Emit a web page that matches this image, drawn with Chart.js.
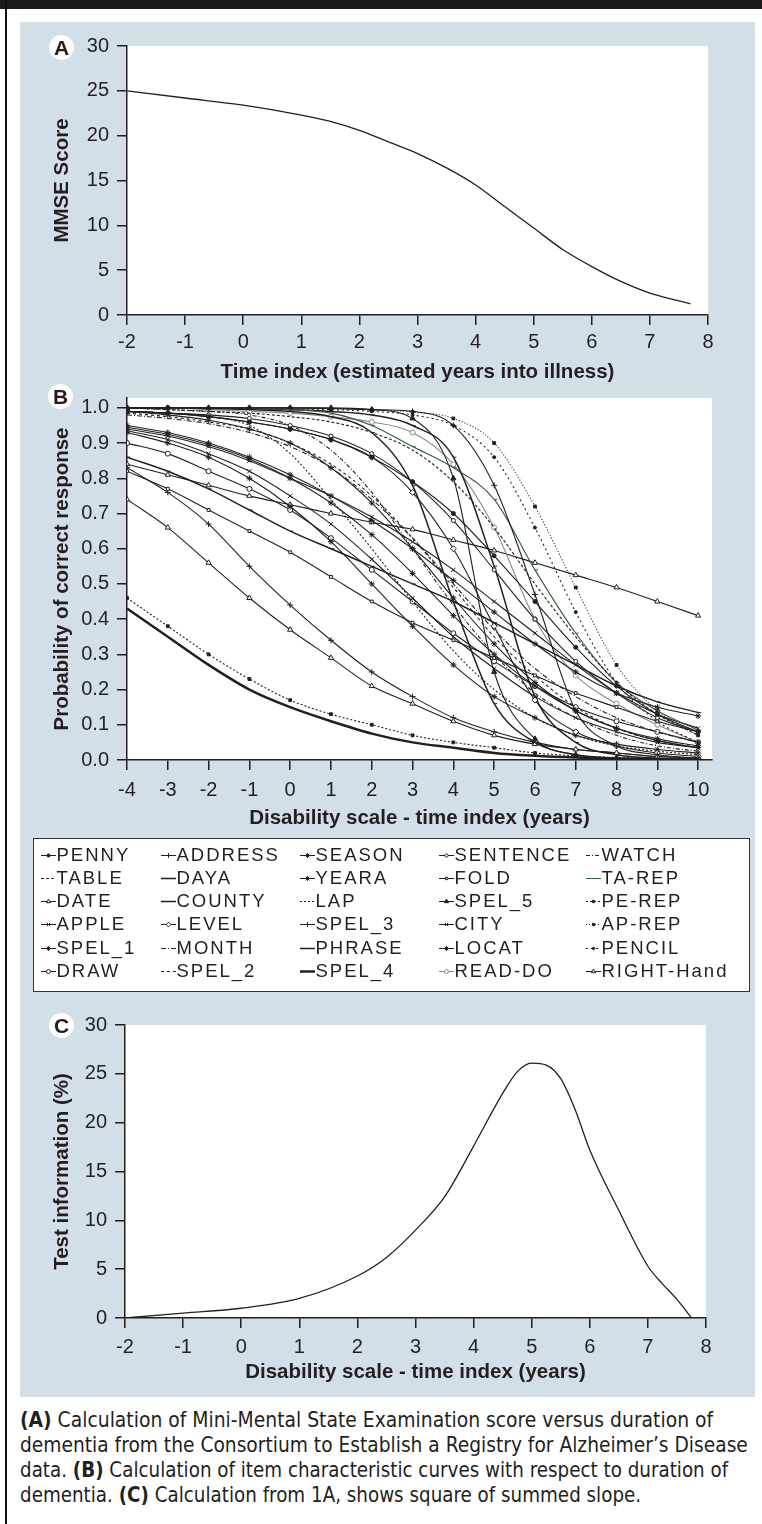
<!DOCTYPE html>
<html>
<head>
<meta charset="utf-8">
<script src="https://cdn.jsdelivr.net/npm/chart.js@4.4.0/dist/chart.umd.min.js"></script>
<style>
  body { margin:0; background:#fff; width:762px; height:1524px; position:relative; overflow:hidden;
         font-family:'Liberation Sans', Arial, sans-serif; color:#231f20; }
  #topbar { position:absolute; left:0; top:0; width:762px; height:9px; background:#1b1b1b; }
  #leftline { position:absolute; left:5px; top:0; width:2px; height:1524px; background:#111; }
  #panel { position:absolute; left:20px; top:22px; width:735px; height:1375px; background:#d3dfe6; }
  canvas.chart { position:absolute; left:20px; }
  .badge { position:absolute; width:25px; height:25px; border-radius:50%; background:#fff;
           font-weight:bold; font-size:21px; line-height:26px; text-align:center; }
  #legend { position:absolute; left:33px; top:838px; width:715px; height:152px; background:#fff;
            border:1.5px solid #333; }
  .item { position:absolute; height:22px; line-height:22px; font-size:18.5px; letter-spacing:2px; white-space:nowrap; }
  .item canvas { position:absolute; left:0; top:5px; }
  .item span { position:absolute; left:16px; top:0; }
  .cap { position:absolute; left:20px; height:26px; line-height:26px; white-space:nowrap; font-size:21px;
         font-family:'Liberation Sans Narrow','DejaVu Sans Condensed','Roboto Condensed','Liberation Sans',sans-serif;
         font-stretch:condensed; transform-origin:0 50%; }
</style>
</head>
<body>
<div id="topbar"></div>
<div id="leftline"></div>
<div id="panel"></div>
<canvas id="chartA" class="chart" width="735" height="370" style="top:22px"></canvas>
<canvas id="chartB" class="chart" width="735" height="455" style="top:378px"></canvas>
<canvas id="chartC" class="chart" width="735" height="395" style="top:1000px"></canvas>
<div class="badge" style="left:49px;top:35px">A</div>
<div class="badge" style="left:48px;top:384px">B</div>
<div class="badge" style="left:49px;top:1013px">C</div>
<div id="legend"></div>
<div class="cap" style="top:1407px"><b>(A)</b> Calculation of Mini-Mental State Examination score versus duration of</div>
<div class="cap" style="top:1432px">dementia from the Consortium to Establish a Registry for Alzheimer’s Disease</div>
<div class="cap" style="top:1457px">data. <b>(B)</b> Calculation of item characteristic curves with respect to duration of</div>
<div class="cap" style="top:1482px">dementia. <b>(C)</b> Calculation from 1A, shows square of summed slope.</div>
<script>
// panel A: MMSE score against time index
const timeA = [-2, -1, 0, 1, 1.5, 2, 2.5, 3, 3.5, 4, 4.5, 5, 5.5, 6, 6.5, 7, 7.7];
const mmse  = [25.0, 24.2, 23.4, 22.3, 21.6, 20.6, 19.3, 18.0, 16.4, 14.5, 12.1, 9.7, 7.3, 5.4, 3.75, 2.45, 1.25];

// panel C: test information
const timeC = [-2, -1, 0, 1, 2, 2.5, 3, 3.5, 4, 4.5, 4.75, 5, 5.25, 5.5, 5.75, 6, 6.5, 7, 7.25, 7.5, 7.75];
const info  = [0, 0.5, 1.0, 2.0, 4.3, 6.2, 9.0, 12.4, 17.6, 23.0, 25.2, 26.1, 25.9, 24.5, 21.3, 17.2, 11.0, 5.3, 3.5, 1.9, 0];

// panel B: item characteristic curves, one value per year
const years = [-4, -3, -2, -1, 0, 1, 2, 3, 4, 5, 6, 7, 8, 9, 10];
const penny     = [0.99, 0.985, 0.975, 0.96, 0.94, 0.91, 0.86, 0.79, 0.70, 0.58, 0.45, 0.32, 0.21, 0.13, 0.08];
const address   = [1.0, 1.0, 1.0, 1.0, 1.0, 0.998, 0.995, 0.99, 0.95, 0.78, 0.47, 0.14, 0.04, 0.015, 0.005];
const season    = [0.95, 0.93, 0.90, 0.86, 0.81, 0.75, 0.68, 0.60, 0.51, 0.42, 0.33, 0.25, 0.19, 0.15, 0.125];
const sentence  = [0.99, 0.985, 0.98, 0.97, 0.95, 0.92, 0.87, 0.79, 0.68, 0.54, 0.40, 0.28, 0.19, 0.12, 0.08];
const watch     = [1.0, 0.995, 0.99, 0.98, 0.95, 0.88, 0.76, 0.60, 0.44, 0.30, 0.19, 0.12, 0.07, 0.04, 0.025];
const table     = [1.0, 0.995, 0.99, 0.985, 0.975, 0.96, 0.93, 0.88, 0.79, 0.66, 0.50, 0.35, 0.22, 0.13, 0.07];
const daya      = [1.0, 1.0, 0.998, 0.995, 0.99, 0.975, 0.93, 0.78, 0.45, 0.16, 0.05, 0.015, 0.005, 0.002, 0.001];
const yeara     = [0.945, 0.925, 0.895, 0.855, 0.80, 0.73, 0.64, 0.53, 0.41, 0.30, 0.21, 0.14, 0.09, 0.06, 0.04];
const fold      = [0.82, 0.77, 0.71, 0.65, 0.59, 0.52, 0.45, 0.39, 0.34, 0.29, 0.24, 0.19, 0.15, 0.11, 0.08];
const taRep     = [1.0, 1.0, 1.0, 1.0, 0.995, 0.985, 0.95, 0.89, 0.83, 0.74, 0.54, 0.36, 0.22, 0.14, 0.085];
const date      = [0.74, 0.66, 0.56, 0.46, 0.37, 0.29, 0.21, 0.16, 0.11, 0.07, 0.045, 0.03, 0.02, 0.01, 0.006];
const county    = [0.86, 0.82, 0.77, 0.71, 0.65, 0.60, 0.55, 0.50, 0.45, 0.39, 0.33, 0.27, 0.21, 0.165, 0.135];
const lap       = [0.99, 0.985, 0.975, 0.95, 0.87, 0.74, 0.60, 0.45, 0.31, 0.20, 0.12, 0.07, 0.04, 0.025, 0.015];
const spel5     = [1.0, 1.0, 1.0, 1.0, 1.0, 1.0, 0.995, 0.97, 0.80, 0.25, 0.06, 0.015, 0.004, 0.001, 0.0];
const peRep     = [0.46, 0.38, 0.30, 0.23, 0.17, 0.13, 0.10, 0.07, 0.05, 0.035, 0.02, 0.012, 0.007, 0.004, 0.002];
const apple     = [0.94, 0.92, 0.89, 0.85, 0.80, 0.75, 0.69, 0.62, 0.54, 0.45, 0.36, 0.27, 0.19, 0.13, 0.09];
const level     = [0.99, 0.985, 0.975, 0.96, 0.94, 0.91, 0.86, 0.76, 0.60, 0.38, 0.17, 0.08, 0.04, 0.02, 0.01];
const spel3     = [0.83, 0.76, 0.67, 0.55, 0.44, 0.34, 0.25, 0.18, 0.12, 0.08, 0.05, 0.03, 0.02, 0.01, 0.006];
const city      = [0.935, 0.91, 0.87, 0.82, 0.75, 0.67, 0.57, 0.46, 0.35, 0.26, 0.18, 0.12, 0.08, 0.05, 0.035];
const apRep     = [1.0, 1.0, 1.0, 1.0, 1.0, 0.998, 0.995, 0.988, 0.97, 0.90, 0.72, 0.49, 0.27, 0.14, 0.07];
const spel1     = [0.93, 0.90, 0.86, 0.80, 0.72, 0.62, 0.50, 0.38, 0.27, 0.18, 0.12, 0.07, 0.045, 0.03, 0.02];
const month     = [0.98, 0.97, 0.955, 0.93, 0.89, 0.83, 0.74, 0.63, 0.50, 0.37, 0.26, 0.18, 0.12, 0.08, 0.05];
const phrase    = [1.0, 1.0, 1.0, 0.998, 0.995, 0.99, 0.98, 0.95, 0.86, 0.55, 0.18, 0.05, 0.015, 0.005, 0.002];
const locat     = [0.99, 0.98, 0.965, 0.94, 0.90, 0.83, 0.73, 0.60, 0.46, 0.33, 0.22, 0.14, 0.09, 0.055, 0.035];
const pencil    = [1.0, 1.0, 1.0, 1.0, 0.998, 0.995, 0.99, 0.98, 0.95, 0.86, 0.66, 0.42, 0.22, 0.11, 0.05];
const draw      = [0.90, 0.87, 0.82, 0.77, 0.71, 0.63, 0.54, 0.45, 0.36, 0.28, 0.21, 0.15, 0.11, 0.08, 0.05];
const spel2     = [0.985, 0.975, 0.96, 0.94, 0.90, 0.84, 0.75, 0.63, 0.49, 0.35, 0.24, 0.15, 0.09, 0.055, 0.035];
const spel4     = [0.43, 0.35, 0.27, 0.20, 0.15, 0.11, 0.075, 0.05, 0.035, 0.02, 0.012, 0.007, 0.004, 0.002, 0.001];
const readDo    = [1.0, 1.0, 0.995, 0.99, 0.985, 0.975, 0.96, 0.93, 0.84, 0.66, 0.40, 0.24, 0.16, 0.10, 0.05];
const rightHand = [0.84, 0.81, 0.78, 0.75, 0.725, 0.70, 0.675, 0.655, 0.625, 0.595, 0.56, 0.525, 0.49, 0.45, 0.41];

// legend order (row by row, five columns)
const itemNames = ['PENNY', 'ADDRESS', 'SEASON', 'SENTENCE', 'WATCH',
                   'TABLE', 'DAYA', 'YEARA', 'FOLD', 'TA-REP',
                   'DATE', 'COUNTY', 'LAP', 'SPEL_5', 'PE-REP',
                   'APPLE', 'LEVEL', 'SPEL_3', 'CITY', 'AP-REP',
                   'SPEL_1', 'MONTH', 'PHRASE', 'LOCAT', 'PENCIL',
                   'DRAW', 'SPEL_2', 'SPEL_4', 'READ-DO', 'RIGHT-Hand'];
const itemValues = [penny, address, season, sentence, watch,
                    table, daya, yeara, fold, taRep,
                    date, county, lap, spel5, peRep,
                    apple, level, spel3, city, apRep,
                    spel1, month, phrase, locat, pencil,
                    draw, spel2, spel4, readDo, rightHand];

const ink = '#231f20';
const W = '#ffffff';
// line / marker look of each item, same order as itemNames
const itemStyles = [
  {marker: 'circle', r: 2, fill: ink},
  {marker: 'cross', r: 3, fill: ink},
  {marker: 'star', r: 3, fill: ink},
  {marker: 'circle', r: 2, fill: W},
  {dash: [4, 2, 1, 2]},
  {dash: [3, 2]},
  {marker: 'dash', r: 3, fill: ink, width: 1.5},
  {marker: 'star', r: 3, fill: ink},
  {marker: 'rect', r: 2, fill: W},
  {marker: 'dash', r: 3, fill: '#2e5e32', color: '#2e5e32'},
  {marker: 'triangle', r: 3, fill: W},
  {marker: 'dash', r: 3, fill: ink, width: 1.5},
  {dash: [2, 2]},
  {marker: 'triangle', r: 3, fill: ink},
  {marker: 'rect', r: 2, fill: ink, dash: [2, 2]},
  {marker: 'crossRot', r: 3, fill: ink},
  {marker: 'rectRot', r: 3, fill: W},
  {marker: 'cross', r: 3, fill: ink},
  {marker: 'crossRot', r: 3, fill: ink},
  {marker: 'rect', r: 2, fill: ink, dash: [1, 2]},
  {marker: 'star', r: 3, fill: ink},
  {dash: [5, 2, 1, 2]},
  {marker: 'dash', r: 3, fill: ink, width: 1.5},
  {marker: 'star', r: 3, fill: ink},
  {marker: 'circle', r: 1.5, fill: ink, dash: [2, 3]},
  {marker: 'circle', r: 2.5, fill: W},
  {dash: [3, 3]},
  {width: 2.5},
  {marker: 'circle', r: 2.5, fill: W, color: '#8a8a8a'},
  {marker: 'triangle', r: 3, fill: W}
];

Chart.defaults.font.family = "'Liberation Sans', Arial, sans-serif";
Chart.defaults.font.size = 20;
Chart.defaults.color = ink;

const plotBg = {
  id: 'plotBg',
  beforeDraw(chart) {
    const a = chart.chartArea, ctx = chart.ctx;
    ctx.save();
    ctx.fillStyle = '#fff';
    ctx.fillRect(a.left, a.top, a.right - a.left, a.bottom - a.top);
    ctx.restore();
  }
};

// tick positions: every step from the axis start up to the last labelled value
function stepTicks(start, last, step) {
  const out = [];
  for (let i = 0; start + i * step <= last + 1e-6; i++) out.push({ value: +(start + i * step).toFixed(4) });
  return out;
}

function axes(o) {
  return {
    x: {
      type: 'linear', min: o.xMin, max: o.xMax,
      afterFit: s => { s.height = o.xHeight; },
      afterBuildTicks: s => { s.ticks = stepTicks(o.xMin, o.xLast, 1); },
      ticks: { padding: o.xPad, color: ink, font: { size: 20 }, maxRotation: 0, autoSkip: false },
      grid: { drawOnChartArea: false, tickLength: 10, color: ink, lineWidth: 1.5 },
      border: { color: ink, width: 1.5 },
      title: { display: true, text: o.xTitle, color: ink, font: { size: 20.5, weight: 'bold' },
               padding: { top: 0, bottom: o.xTitlePad } }
    },
    y: {
      min: o.yMin, max: o.yMax,
      afterFit: s => { s.width = o.yWidth; },
      afterBuildTicks: s => { s.ticks = stepTicks(o.yMin, o.yLast, o.yStep); },
      ticks: { padding: 8, color: ink, font: { size: 20 }, autoSkip: false,
               callback: o.yFormat || (v => v) },
      grid: { drawOnChartArea: false, tickLength: 10, color: ink, lineWidth: 1.5 },
      border: { color: ink, width: 1.5 },
      title: { display: true, text: o.yTitle, color: ink, font: { size: 20.5, weight: 'bold' },
               padding: { top: 62 - 20 - 12.3, bottom: 0 } }
    }
  };
}

const common = {
  responsive: false,
  animation: false,
  plugins: { legend: { display: false }, tooltip: { enabled: false } }
};

new Chart(document.getElementById('chartA'), {
  type: 'line',
  data: { datasets: [{ data: timeA.map((x, i) => ({ x: x, y: mmse[i] })), borderColor: ink, borderWidth: 1.3,
                       pointRadius: 0, cubicInterpolationMode: 'monotone', fill: false }] },
  options: Object.assign({}, common, {
    layout: { autoPadding: false, padding: { left: 0, top: 24, right: 47, bottom: 0 } },
    scales: axes({ xMin: -2, xMax: 8, xLast: 8, xHeight: 77, xPad: 5, xTitlePad: 7.7,
                   xTitle: 'Time index (estimated years into illness)',
                   yMin: 0, yMax: 30, yLast: 30, yStep: 5, yWidth: 107, yTitle: 'MMSE Score' })
  }),
  plugins: [plotBg]
});

new Chart(document.getElementById('chartB'), {
  type: 'line',
  data: {
    datasets: itemNames.map((name, k) => {
      const st = itemStyles[k];
      const col = st.color || ink;
      return {
        label: name,
        data: years.map((x, i) => ({ x: x, y: itemValues[k][i] })),
        borderColor: col, borderWidth: st.width || 1.1, borderDash: st.dash || [],
        pointStyle: st.marker || 'circle', pointRadius: st.marker ? st.r : 0,
        pointBackgroundColor: st.fill || ink, pointBorderColor: col, pointBorderWidth: 1,
        cubicInterpolationMode: 'monotone', fill: false
      };
    })
  },
  options: Object.assign({}, common, {
    layout: { autoPadding: false, padding: { left: 0, top: 15, right: 43, bottom: 0 } },
    scales: axes({ xMin: -4, xMax: 10.34, xLast: 10, xHeight: 73, xPad: 8, xTitlePad: 2.7,
                   xTitle: 'Disability scale - time index (years)',
                   yMin: 0, yMax: 1.028, yLast: 1.0, yStep: 0.1, yWidth: 107,
                   yTitle: 'Probability of correct response', yFormat: v => Number(v).toFixed(1) })
  }),
  plugins: [plotBg]
});

new Chart(document.getElementById('chartC'), {
  type: 'line',
  data: { datasets: [{ data: timeC.map((x, i) => ({ x: x, y: info[i] })), borderColor: ink, borderWidth: 1.3,
                       pointRadius: 0, cubicInterpolationMode: 'monotone', fill: false }] },
  options: Object.assign({}, common, {
    layout: { autoPadding: false, padding: { left: 0, top: 25, right: 49, bottom: 0 } },
    scales: axes({ xMin: -2, xMax: 8, xLast: 8, xHeight: 77, xPad: 7, xTitlePad: 10.7,
                   xTitle: 'Disability scale - time index (years)',
                   yMin: 0, yMax: 30, yLast: 30, yStep: 5, yWidth: 105, yTitle: 'Test information (%)' })
  }),
  plugins: [plotBg]
});

// HTML legend in a 5 column grid
const legend = document.getElementById('legend');
const colText = [57, 177, 316, 455, 602];
itemNames.forEach((name, k) => {
  const st = itemStyles[k];
  const row = Math.floor(k / 5), col = k % 5;
  const div = document.createElement('div');
  div.className = 'item';
  div.style.left = (colText[col] - 16 - 34.5) + 'px';
  div.style.top = (855 + row * 23.3 - 11 - 839.5) + 'px';
  const cv = document.createElement('canvas');
  cv.width = 16; cv.height = 12;
  const c = cv.getContext('2d');
  const col2 = st.color || ink;
  c.strokeStyle = col2;
  c.lineWidth = st.width || 1;
  c.setLineDash(st.dash || []);
  c.beginPath(); c.moveTo(0, 6.5); c.lineTo(15, 6.5); c.stroke();
  c.setLineDash([]);
  if (st.marker && Chart.helpers && Chart.helpers.drawPoint) {
    c.fillStyle = st.fill || ink;
    c.lineWidth = 1;
    Chart.helpers.drawPoint(c, { pointStyle: st.marker, radius: st.r * 0.8, rotation: 0, borderWidth: 1 }, 7.5, 6.5);
  }
  const sp = document.createElement('span');
  sp.textContent = name;
  div.appendChild(cv);
  div.appendChild(sp);
  legend.appendChild(div);
});

// fit each caption line to the width it has in the figure
const capWidths = [693, 728, 708, 621];
document.querySelectorAll('.cap').forEach((el, i) => {
  const w = el.getBoundingClientRect().width;
  el.style.transform = 'scaleX(' + (capWidths[i] / w).toFixed(3) + ')';
});
</script>
</body>
</html>
